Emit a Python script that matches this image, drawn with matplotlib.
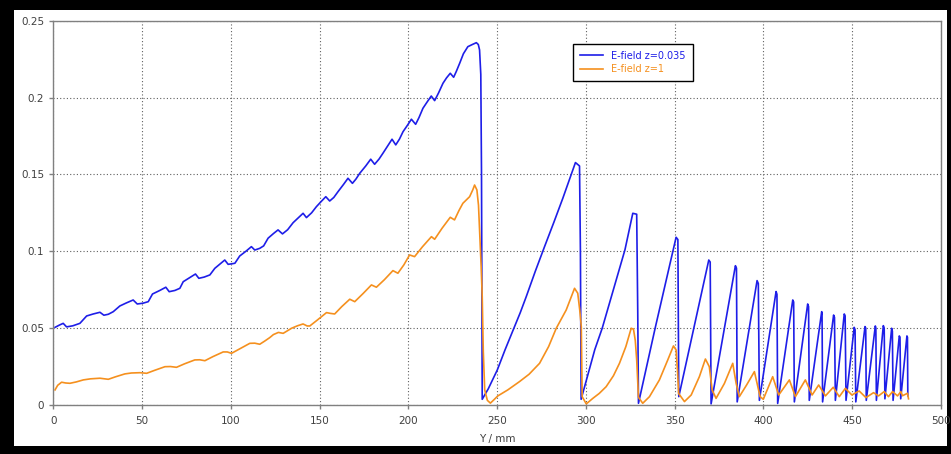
import matplotlib
matplotlib.use("Agg")
import matplotlib.pyplot as plt
from matplotlib.patches import Rectangle

# E-field z=0.035 (blue)
blue_x = [1.0, 3.5, 5.6, 7.5, 11, 15, 18.8, 22.5, 26.3, 28.5, 31, 33.8, 37.5, 41, 45, 47.3,
          50.5, 53.5, 55.9, 60, 63.4, 65.3, 68.5, 71.3, 73.2, 77, 80.1, 82, 85, 88.2, 91, 94,
          96.6, 98.5, 100.4, 102.3, 105, 108.5, 111.6, 113.5, 116.3, 118.5, 121, 124, 126.6,
          129.1, 132, 135.1, 138, 140.7, 142.6, 145.5, 148.2, 151, 153.5, 155.7, 158, 160.4,
          163.5, 166, 168.5, 170.5, 172.6, 176, 178.8, 181, 183.5, 185.7, 188.5, 190.8, 192.9,
          195, 197, 199.5, 201.7, 204.1, 206, 208.2, 210.5, 212.9, 214.8, 217, 219.5, 221.5,
          223.6, 225.5, 227, 228.9, 231, 233.5, 236, 238.3, 239.4, 240.1, 240.8, 241.2, 241.5,
          241.6,
          245, 250.1, 254.5, 259.4, 263, 266.4, 271.5, 276.7, 282, 287, 290.5, 294.1, 296.4,
          296.9, 297.3,
          305, 309.2, 316, 322, 326.4, 328.6, 329.2, 329.6,
          339, 345, 350.8, 351.8, 352.1, 352.3,
          360, 369.2, 370.0, 370.5,
          384.2, 384.8, 385.2,
          396.4, 397.1, 397.7,
          407.1, 407.6, 408.0,
          416.5, 417.0, 417.4,
          424.9, 425.4, 425.8,
          432.8, 433.0, 433.3,
          439.5, 440.0, 440.5,
          445.5, 446.0, 446.5,
          451.1, 451.6, 452.0,
          457.2, 457.6, 457.9,
          463.0, 463.3, 463.6,
          467.5, 468.0, 468.4,
          472.2, 472.6, 473.0,
          476.5, 476.9, 477.3,
          480.8, 481.1, 481.3]
blue_y = [0.0505, 0.052, 0.0531, 0.0508, 0.0515, 0.0531, 0.0579, 0.0592, 0.0603, 0.0584,
          0.059, 0.0607, 0.0644, 0.0663, 0.0683, 0.0657, 0.0662, 0.0672, 0.0722, 0.0745,
          0.0766, 0.0737, 0.0745, 0.0759, 0.0802, 0.083, 0.0852, 0.0824, 0.0832, 0.0846,
          0.0889, 0.0918, 0.0943, 0.0915, 0.0918, 0.0922, 0.0969, 0.1, 0.103, 0.1008, 0.1019,
          0.1035, 0.1085, 0.1115, 0.1139, 0.1113, 0.114, 0.1186, 0.1218, 0.1247, 0.1219,
          0.125, 0.129, 0.1325, 0.1355, 0.1327, 0.135, 0.1388, 0.1435, 0.1475, 0.1442, 0.147,
          0.1507, 0.1555, 0.1599, 0.1566, 0.16, 0.1638, 0.1688, 0.1729, 0.1692, 0.173, 0.1778,
          0.182, 0.1859, 0.1826, 0.187, 0.193, 0.197, 0.201, 0.198, 0.203, 0.2093, 0.2128,
          0.2158, 0.2132, 0.217, 0.2223, 0.2285, 0.2331, 0.2345, 0.2357, 0.2345, 0.231, 0.215,
          0.15, 0.05, 0.0037,
          0.0105, 0.0228, 0.036, 0.0499, 0.06, 0.0705, 0.087, 0.103, 0.119, 0.1345, 0.146,
          0.1577, 0.1555, 0.1, 0.0037,
          0.036, 0.05, 0.077, 0.101, 0.1247, 0.1241, 0.06, 0.0011,
          0.05, 0.08, 0.1091, 0.1076, 0.05, 0.0054,
          0.046, 0.0943, 0.093, 0.0007,
          0.0906, 0.089, 0.002,
          0.0809, 0.079, 0.003,
          0.0738, 0.072, 0.001,
          0.0683, 0.067, 0.002,
          0.0657, 0.064, 0.003,
          0.0607, 0.059, 0.002,
          0.0585, 0.057, 0.003,
          0.0592, 0.058, 0.003,
          0.0505, 0.049, 0.002,
          0.051, 0.05, 0.003,
          0.0514, 0.05, 0.003,
          0.0516, 0.05, 0.004,
          0.0499, 0.048, 0.003,
          0.0449, 0.044, 0.004,
          0.0449, 0.044, 0.006]

# E-field z=1 (orange)
orange_x = [1.0, 2.5, 4.7, 7, 9.4, 13, 16.9, 21, 26.3, 31, 35, 40.3, 44, 48.8, 52.6, 57, 62.9,
            66, 69.4, 74, 79.7, 82.5, 85.4, 90, 95.7, 98, 100.4, 105, 110.7, 113.5, 116.3, 119,
            121.9, 124, 126.8, 129.5, 134.2, 137.5, 140.7, 143, 144.5, 149, 153.9, 156, 158.5,
            162.5, 167, 169.8, 174.5, 179.2, 182, 186.5, 191.3, 194.1, 197.5, 200.7, 203.5,
            208, 213, 214.8, 219, 223.6, 226, 228.5, 230.7, 234.5, 236.3, 237.3, 238.6, 239.5,
            240.1, 241.0, 241.6, 242.2, 243, 244.5, 246.2, 248.3, 250.4, 256, 262.6, 268,
            273.9, 279, 283.3, 288.9, 292, 293.6, 295.4, 296.5, 297.4, 297.9, 300.2, 303.9,
            307.5, 311.4, 315.5, 318.9, 322.5, 325.5, 326.8, 327.8, 328.6, 329.6, 332, 335.8,
            341.4, 346.1, 349.3, 350.8, 351.6, 352.2, 355.5, 359.3, 363.9, 367.3, 369.5, 371.1,
            373.3, 378, 382.7, 384.6, 386.4, 390.5, 394.9, 398.1, 399.9, 405.2, 408.6, 414.6,
            418, 423.6, 427.4, 431.1, 434.9, 439.3, 442.7, 446.1, 449.8, 453.9, 457.7, 462,
            464.8, 468, 470.4, 472.7, 475.5, 477.4, 478.3, 481.1, 481.7]
orange_y = [0.0098, 0.0128, 0.0148, 0.0143, 0.0141, 0.015, 0.0163, 0.017, 0.0174, 0.0167,
            0.0183, 0.0202, 0.0208, 0.021, 0.0206, 0.0225, 0.0249, 0.025, 0.0245, 0.0268,
            0.0293, 0.0294, 0.0288, 0.0315, 0.0345, 0.0345, 0.0336, 0.0365, 0.0401, 0.0402,
            0.0395, 0.0415, 0.0438, 0.0458, 0.0472, 0.0466, 0.0499, 0.0515, 0.0527, 0.0514,
            0.0514, 0.0555, 0.0601, 0.0596, 0.0592, 0.064, 0.0688, 0.0672, 0.0725, 0.0781,
            0.0766, 0.0815, 0.0874, 0.0857, 0.0912, 0.0976, 0.0965, 0.103, 0.1095, 0.1078,
            0.115, 0.1221, 0.1204, 0.1265, 0.1312, 0.1355, 0.14, 0.1431, 0.1399, 0.13, 0.1139,
            0.09, 0.0705, 0.035, 0.0098, 0.003, 0.0012, 0.0035, 0.0059, 0.0098, 0.0152, 0.02,
            0.0271, 0.038, 0.0499, 0.0618, 0.071, 0.0759, 0.0727, 0.062, 0.051, 0.0054, 0.0007,
            0.0043, 0.0075, 0.0119, 0.019, 0.0271, 0.038, 0.0499, 0.0493, 0.042, 0.0293, 0.005,
            0.0011, 0.0054, 0.0163, 0.0293, 0.0384, 0.0358, 0.022, 0.0075, 0.0022, 0.0065,
            0.0184, 0.0299, 0.0249, 0.0098, 0.0043, 0.014, 0.0271, 0.0141, 0.0054, 0.013,
            0.0217, 0.0054, 0.0037, 0.0184, 0.0065, 0.0163, 0.0054, 0.0163, 0.0065, 0.013,
            0.0059, 0.0115, 0.0054, 0.0108, 0.0065, 0.0091, 0.0048, 0.008, 0.0059, 0.0087,
            0.0054, 0.0087, 0.0059, 0.0087, 0.006, 0.0076, 0.004]

xticks = [0, 50, 100, 150, 200, 250, 300, 350, 400, 450, 500]
yticks = [0, 0.05, 0.1, 0.15, 0.2, 0.25]
ytick_labels = ["0", "0.05", "0.1", "0.15", "0.2", "0.25"]

fig = plt.figure(figsize=(9.51, 4.54), dpi=100, facecolor="black")
# white inner panel (screenshot frame), behind the axes
fig.patches.append(Rectangle((0.0147, 0.0176), 0.9811, 0.9604, transform=fig.transFigure,
                             facecolor="white", edgecolor="none", zorder=-10))
ax = fig.add_axes([0.056, 0.108, 0.9335, 0.8464])
ax.set_zorder(5)
ax.set_facecolor("white")

ax.plot(blue_x, blue_y, color="#1e1ee8", lw=1.2, label="E-field z=0.035")
ax.plot(orange_x, orange_y, color="#f5901e", lw=1.2, label="E-field z=1")

ax.set_xlim(0, 500)
ax.set_ylim(0, 0.25)
ax.set_xticks(xticks)
ax.set_yticks(yticks)
ax.set_yticklabels(ytick_labels)
ax.grid(True, color="#606060", linestyle=(0, (1, 2)), linewidth=0.8)
for s in ax.spines.values():
    s.set_color("#808080")
    s.set_linewidth(1.0)
ax.tick_params(direction="out", length=3, width=1, color="#808080",
               labelsize=7.5, labelcolor="#404040")
ax.tick_params(axis="x", pad=5)
ax.set_xlabel("Y / mm", fontsize=7.5, color="#404040", labelpad=6)

leg = ax.legend(loc="upper left", bbox_to_anchor=(0.5858, 0.9394), fontsize=7,
                labelcolor="linecolor", fancybox=False, edgecolor="black",
                framealpha=1, handlelength=2.4, borderpad=0.7, labelspacing=0.35,
                borderaxespad=0)
leg.get_frame().set_linewidth(1.0)

fig.savefig("out.png", dpi=100, facecolor=fig.get_facecolor())
